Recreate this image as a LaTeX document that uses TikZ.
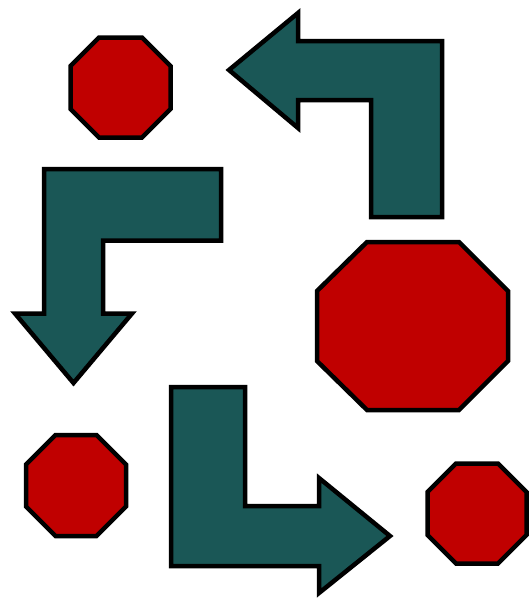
\documentclass[tikz,border=0pt]{standalone}
\definecolor{teal1}{HTML}{1A5756}
\definecolor{red1}{HTML}{C00000}
\begin{document}
\begin{tikzpicture}[x=1pt,y=-1pt,
  bentarrow/.style={fill=teal1,draw=black,line width=4.5pt,miter limit=10},
  octa/.style={fill=red1,draw=black,line width=4.5pt,miter limit=10}]
\useasboundingbox (0,0) rectangle (529,600);
% octagons
\draw[octa] (99,37.5) -- (142,37.5) -- (170.5,66) -- (170.5,109) -- (142,137.5) -- (99,137.5) -- (70.5,109) -- (70.5,66) -- cycle;
\draw[octa] (367,242) -- (459,242) -- (508,291) -- (508,361) -- (459,410) -- (367,410) -- (317,361) -- (317,291) -- cycle;
\draw[octa] (55.5,435) -- (96.5,435) -- (126,464.5) -- (126,506.5) -- (96.5,536) -- (55.5,536) -- (26,506.5) -- (26,464.5) -- cycle;
\draw[octa] (456,463.5) -- (498,463.5) -- (526.5,492) -- (526.5,535) -- (498,563.5) -- (456,563.5) -- (427.5,535) -- (427.5,492) -- cycle;
% arrows
\draw[bentarrow] (229,70) -- (298,13) -- (298,41) -- (442,41) -- (442,217) -- (371,217) -- (371,100) -- (298,100) -- (298,128) -- cycle;
\draw[bentarrow] (44,169) -- (221,169) -- (221,240.5) -- (103,240.5) -- (103,313.5) -- (132,313.5) -- (73.5,383) -- (15,313.5) -- (44,313.5) -- cycle;
\draw[bentarrow] (171,387) -- (245,387) -- (245,506) -- (319,506) -- (319,478) -- (390,536) -- (319,593) -- (319,566) -- (171,566) -- cycle;
\end{tikzpicture}
\end{document}
